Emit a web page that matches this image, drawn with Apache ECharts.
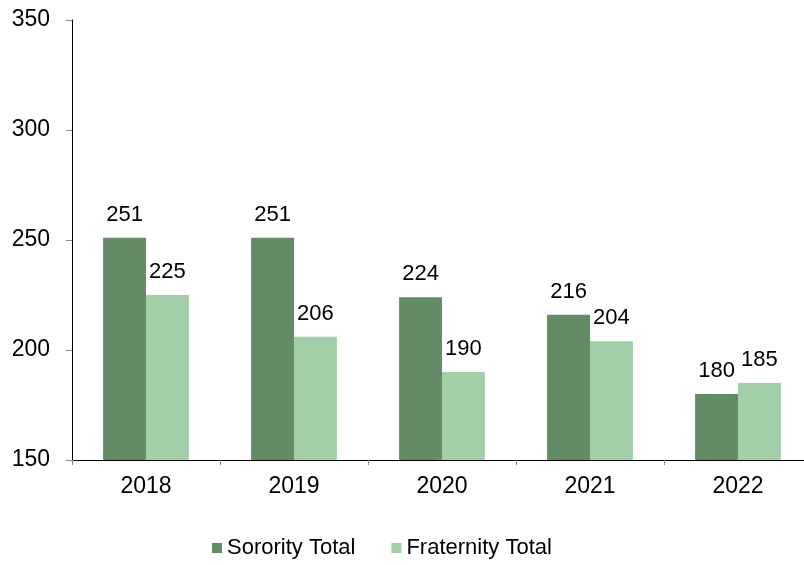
<!DOCTYPE html>
<html>
<head>
<meta charset="utf-8">
<script src="https://cdn.jsdelivr.net/npm/echarts@6/dist/echarts.min.js"></script>
<style>
  html, body { margin: 0; padding: 0; background: #fff; }
  #chart { width: 804px; height: 565px; }
</style>
</head>
<body>
<div id="chart"></div>
<script>
const years = ['2018', '2019', '2020', '2021', '2022']
const sorority = [251, 251, 224, 216, 180]
const fraternity = [225, 206, 190, 204, 185]
const seriesNames = ['Sorority Total', 'Fraternity Total']
const colors = ['#628b66', '#a3cfa8']

const font = 'Liberation Sans, Arial, sans-serif'
const chart = echarts.init(document.getElementById('chart'))

const barLabel = {
  show: true,
  position: 'top',
  distance: 12,
  color: '#000',
  fontSize: 22,
  fontFamily: font,
}

chart.setOption({
  backgroundColor: '#fff',
  animation: false,
  color: colors,
  // plot runs a little past the right edge, like the original
  grid: { left: 72, width: 740, top: 20, bottom: 105, outerBoundsMode: 'none' },
  legend: {
    bottom: 1,
    left: 207,
    itemWidth: 10,
    itemHeight: 10,
    itemGap: 36,
    icon: 'rect',
    textStyle: { color: '#000', fontSize: 22, fontFamily: font },
    data: seriesNames,
  },
  xAxis: {
    type: 'category',
    data: years,
    axisLine: { lineStyle: { color: '#000', width: 1 } },
    axisTick: { show: true, length: 5, lineStyle: { color: '#888' } },
    axisLabel: { color: '#000', fontSize: 23, fontFamily: font, margin: 15 },
  },
  yAxis: {
    type: 'value',
    min: 150,
    max: 350,
    interval: 50,
    axisLine: { show: true, lineStyle: { color: '#000', width: 1 } },
    axisTick: { show: true, length: 6, lineStyle: { color: '#888' } },
    splitLine: { show: false },
    axisLabel: { color: '#000', fontSize: 23, fontFamily: font, margin: 22 },
  },
  series: [
    {
      name: seriesNames[0],
      type: 'bar',
      data: sorority,
      barGap: '0%',
      barCategoryGap: '42%',
      label: barLabel,
    },
    {
      name: seriesNames[1],
      type: 'bar',
      data: fraternity,
      label: barLabel,
    },
  ],
})
</script>
</body>
</html>
